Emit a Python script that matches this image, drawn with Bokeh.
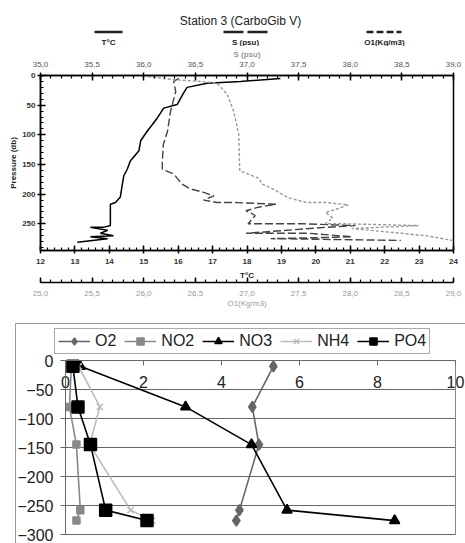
from bokeh.plotting import figure
from bokeh.models import (Range1d, LinearAxis, FixedTicker, Label, Legend,
                          LegendItem, CustomJSTickFormatter)
from bokeh.embed import file_html
from bokeh.resources import INLINE
import numpy as np

# ---------------- top panel data (CTD profile, Station 3) ----------------
t_depth = [5, 10, 13, 20, 30, 49, 55, 72, 94, 110, 127, 144, 158, 169, 186, 205,
           214, 217, 239, 253, 256, 256, 261, 266, 270, 272, 275, 281]
t_temp = [18.97, 17.81, 16.84, 16.26, 16.15, 15.97, 15.58, 15.39, 15.10, 14.91, 14.86,
          14.61, 14.52, 14.42, 14.37, 14.32, 14.18, 14.03, 14.03, 14.03, 13.83, 13.45,
          13.95, 13.74, 14.12, 13.45, 13.95, 13.07]

s_depth = [5, 10, 27, 60, 94, 116, 144, 158, 166, 183, 191, 197, 203, 210, 214, 214,
           217, 222, 228, 236, 250, 250, 253, 256, 266, 266, 272, 275, 278]
s_sal = [36.34, 36.29, 36.31, 36.26, 36.23, 36.19, 36.18, 36.18, 36.29, 36.37, 36.45,
         36.58, 36.68, 36.58, 36.71, 36.87, 37.28, 37.11, 36.99, 37.08, 37.01, 37.54,
         38.05, 37.76, 36.99, 37.60, 38.02, 37.23, 38.49]

o_depth = [2, 7, 10, 13, 32, 60, 99, 161, 166, 173, 183, 194, 206, 214, 214, 218, 224,
           231, 240, 250, 250, 253, 258, 270, 278]
o_sigma = [26.04, 26.29, 26.55, 26.71, 26.81, 26.87, 26.92, 26.93, 27.01, 27.11, 27.15,
           27.28, 27.40, 27.57, 27.76, 27.98, 27.89, 27.76, 27.83, 27.76, 27.95, 28.66,
           28.02, 28.73, 28.99]

t_ticks = [12, 13, 14, 15, 16, 17, 18, 19, 20, 21, 22, 23, 24]
s_ticks = [35.0, 35.5, 36.0, 36.5, 37.0, 37.5, 38.0, 38.5, 39.0]
o_ticks = [25.0, 25.5, 26.0, 26.5, 27.0, 27.5, 28.0, 28.5, 29.0]
p_ticks = [0, 50, 100, 150, 200, 250]

# ---------------- bottom panel data (nutrients / O2) ----------------
depth = [-10, -80, -145, -258, -276]
o2 = [5.33, 4.79, 4.96, 4.46, 4.38]
no2 = [0.15, 0.10, 0.28, 0.38, 0.28]
no3 = [0.38, 3.08, 4.77, 5.68, 8.44]
nh4 = [0.34, 0.88, 0.62, 1.67, 2.22]
po4 = [0.19, 0.32, 0.64, 1.03, 2.09]
x_ticks = [0, 2, 4, 6, 8, 10]
y_ticks = [0, -50, -100, -150, -200, -250, -300]

FONT = "Liberation Sans"
comma_fmt = CustomJSTickFormatter(code="return tick.toFixed(1).replace('.', ',')")

# =============================== HEADER (title + key) ===============================
HH = 46
hdr = figure(width=465, height=HH, x_range=Range1d(0, 465), y_range=Range1d(HH, 0),
             output_backend="svg", toolbar_location=None,
             x_axis_location=None, y_axis_location=None, min_border=0)
hdr.outline_line_color = None
hdr.xgrid.visible = False
hdr.ygrid.visible = False
hdr.add_layout(Label(x=240, y=20, text="Station 3 (CarboGib V)", text_align="center",
                     text_baseline="middle", text_font=FONT, text_font_size="12px",
                     text_color="#222"))
key_lines = [([94, 122], "solid"), ([223, 268], "20 4"), ([366, 401], "7 3")]
for xs, dash in key_lines:
    hdr.line(xs, [31.5, 31.5], line_width=2.5, line_color="#222", line_dash=dash)
for xx, txt in [(108, "T°C"), (245, "S (psu)"), (384, "O1(Kg/m3)")]:
    hdr.add_layout(Label(x=xx, y=42, text=txt, text_align="center", text_baseline="middle",
                         text_font=FONT, text_font_size="8px", text_font_style="bold",
                         text_color="#222"))

# =============================== TOP PROFILE ===============================
top = figure(width=465, height=266, x_range=Range1d(12, 24), y_range=Range1d(295, 0),
             output_backend="svg", toolbar_location=None,
             x_axis_location=None, y_axis_location=None,
             min_border_left=40, min_border_right=12, min_border_top=28, min_border_bottom=62)
top.extra_x_ranges = {"S": Range1d(35, 39), "O": Range1d(25, 29)}
top.outline_line_color = "black"
top.outline_line_width = 1.5
top.xgrid.visible = False
top.ygrid.visible = False


def style_axis(ax, label_color="#333"):
    ax.axis_line_width = 1.5
    ax.axis_line_color = "black"
    ax.major_tick_in = 5
    ax.major_tick_out = 3
    ax.minor_tick_in = 3
    ax.minor_tick_out = 0
    ax.major_tick_line_width = 1.5
    ax.minor_tick_line_width = 1.2
    ax.major_label_text_font = FONT
    ax.major_label_text_font_size = "8px"
    ax.major_label_text_font_style = "bold"
    ax.major_label_text_color = label_color
    ax.axis_label_text_font = FONT
    ax.axis_label_text_font_size = "8px"
    ax.axis_label_text_font_style = "bold"
    ax.axis_label_text_color = "#222"
    ax.major_label_standoff = 2
    ax.axis_label_standoff = 1


ya = LinearAxis(ticker=FixedTicker(ticks=p_ticks, minor_ticks=list(range(0, 300, 10))),
                axis_label="Pressure (db)")
style_axis(ya)
top.add_layout(ya, "left")

xa_t = LinearAxis(ticker=FixedTicker(ticks=t_ticks,
                                     minor_ticks=np.round(np.arange(12, 24.01, 0.2), 2).tolist()),
                  axis_label="T°C")
style_axis(xa_t)
xa_t.major_label_standoff = 5
xa_t.axis_label_standoff = 4
top.add_layout(xa_t, "below")

xa_o = LinearAxis(x_range_name="O",
                  ticker=FixedTicker(ticks=o_ticks,
                                     minor_ticks=np.round(np.arange(25, 29.01, 0.1), 2).tolist()),
                  formatter=comma_fmt, axis_label="O1(Kg/m3)")
style_axis(xa_o, "#999")
xa_o.axis_label_text_color = "#999"
xa_o.axis_label_text_font_style = "normal"
xa_o.major_label_text_font_style = "normal"
xa_o.major_tick_out = 0
xa_o.major_tick_in = 5
xa_o.major_label_standoff = 8
xa_o.axis_label_standoff = 0
top.add_layout(xa_o, "below")

xa_s = LinearAxis(x_range_name="S",
                  ticker=FixedTicker(ticks=s_ticks,
                                     minor_ticks=np.round(np.arange(35, 39.01, 0.1), 2).tolist()),
                  formatter=comma_fmt, axis_label="S (psu)")
style_axis(xa_s, "#555")
xa_s.major_label_text_font_style = "normal"
xa_s.axis_label_text_color = "#999"
xa_s.major_label_standoff = 6
xa_s.axis_label_standoff = 0
top.add_layout(xa_s, "above")

top.line(t_temp, t_depth, color="black", line_width=1.5)
top.line(s_sal, s_depth, x_range_name="S", color="#444", line_width=1.4, line_dash="8 3")
top.line(o_sigma, o_depth, x_range_name="O", color="#999", line_width=1.4, line_dash="3 2")

# =============================== BOTTOM NUTRIENTS ===============================
# pixel layout of the lower chart (page pixels): value 0 at x=65, 10 at x=455; 0 m at y=360, -300 at y=534
X0_PX, X_SCALE = 65.0, 39.0
Y0_PX, Y_SCALE = 360.0, 0.58
BOT_TOP = 312
F_LEFT, F_TOP = 14, BOT_TOP + 10
F_W, F_H = 465 - F_LEFT, 543 - F_TOP


def px_x(px):
    return (px - X0_PX) / X_SCALE


def px_y(py):
    return (Y0_PX - py) / Y_SCALE


bot = figure(width=465, height=543 - BOT_TOP,
             x_range=Range1d(px_x(F_LEFT), px_x(F_LEFT + F_W)),
             y_range=Range1d(px_y(F_TOP + F_H), px_y(F_TOP)),
             output_backend="svg", toolbar_location=None,
             x_axis_location=None, y_axis_location=None,
             min_border_left=F_LEFT, min_border_right=0, min_border_top=10, min_border_bottom=0)
bot.outline_line_color = None
bot.xgrid.visible = False
bot.ygrid.visible = False

# outer chart-area border (left and top edges visible in the picture)
bl, bt = px_x(15), px_y(323)
bot.segment(x0=[bl, bl], y0=[bt, bt], x1=[px_x(470), bl], y1=[bt, px_y(560)],
            line_color="#999", line_width=1)

# horizontal gridlines + plot-area border
grid_y = [t for t in y_ticks if t != 0]
bot.segment(x0=[0] * len(grid_y), y0=grid_y, x1=[10] * len(grid_y), y1=grid_y,
            line_color="#666", line_width=1)
bot.segment(x0=[10], y0=[-300], x1=[10], y1=[0], line_color="#888", line_width=1)

ya_b = LinearAxis(fixed_location=0, bounds=(-300, 0), ticker=FixedTicker(ticks=y_ticks))
xb = LinearAxis(fixed_location=0, bounds=(0, 10), ticker=FixedTicker(ticks=x_ticks))
for ax in (ya_b, xb):
    ax.axis_line_color = "#666"
    ax.major_tick_line_color = "#666"
    ax.major_tick_in = 0
    ax.major_tick_out = 5
    ax.minor_tick_out = 0
    ax.minor_tick_in = 0
    ax.major_label_text_font = FONT
    ax.major_label_text_font_size = "16px"
    ax.major_label_text_color = "#222"
ya_b.major_label_standoff = 7
xb.major_label_standoff = 10
bot.add_layout(ya_b, "left")
bot.add_layout(xb, "below")

items = []
specs = [
    ("O2", o2, "#666", "diamond", 11, "#666"),
    ("NO2", no2, "#888", "square", 7, "#888"),
    ("NO3", no3, "black", "triangle", 10, "black"),
    ("NH4", nh4, "#bbb", "x", 9, "#bbb"),
    ("PO4", po4, "black", "square", 12, "black"),
]
for name, vals, col, mk, sz, mcol in specs:
    r1 = bot.line(vals, depth, color=col, line_width=1.6)
    r2 = bot.scatter(vals, depth, marker=mk, size=sz, fill_color=mcol, line_color=mcol,
                     line_width=1.5)
    items.append(LegendItem(label=name, renderers=[r1, r2]))

legend = Legend(items=items, orientation="horizontal",
                location=(54 - F_LEFT, (F_TOP + F_H) - 354),
                label_text_font=FONT, label_text_font_size="16px", label_text_color="#222",
                glyph_width=32, glyph_height=18, label_standoff=5, spacing=8, padding=3,
                margin=0, border_line_color="#555", border_line_width=1,
                background_fill_color="white", background_fill_alpha=1.0)
bot.add_layout(legend)

open("out.html", "w").write(file_html([hdr, top, bot], INLINE))
